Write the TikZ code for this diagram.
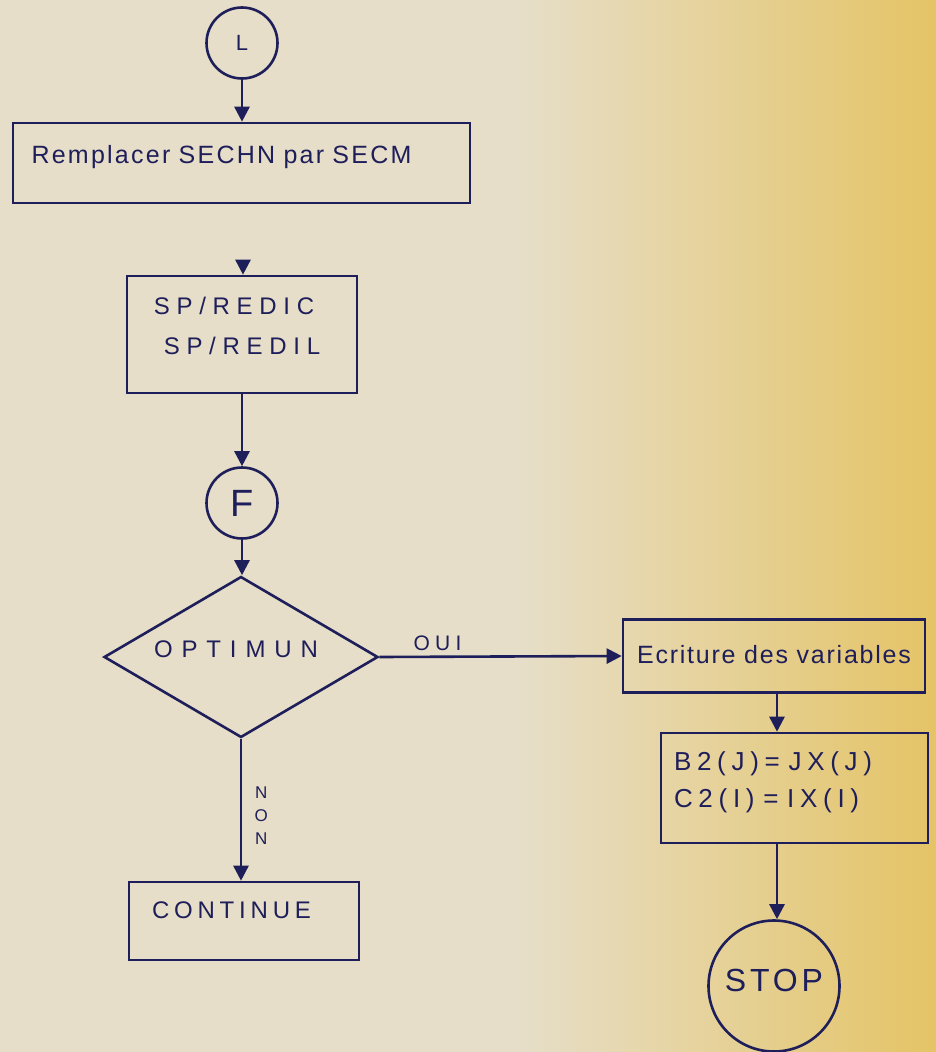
\documentclass[tikz,border=0pt]{standalone}
\usepackage{fontspec}
\setmainfont{Liberation Sans}
\usetikzlibrary{shapes.geometric,arrows.meta,calc}
\definecolor{paper}{HTML}{E6DEC8}
\definecolor{paperY}{HTML}{E5C466}
\definecolor{ink}{HTML}{1E1E5A}
\begin{document}
\begin{tikzpicture}[x=1pt,y=-1pt,
  every node/.style={text=ink},
  ln/.style={draw=ink,line width=2.6pt},
  arr/.style={ln,-{Triangle[length=15pt,width=15pt]}},
  box/.style={draw=ink,line width=2.6pt,rectangle,inner sep=0pt},
  circ/.style={draw=ink,line width=2.6pt,circle,inner sep=0pt},
  dia/.style={draw=ink,line width=2.6pt,diamond,inner sep=0pt}
]
\fill[paper] (0,0) rectangle (936,1052);
\shade[left color=paper,right color=paperY] (520,0) rectangle (936,1052);
\useasboundingbox (0,0) rectangle (936,1052);

\node[circ,minimum size=71pt,font=\fontsize{22}{26}\selectfont] (L) at (242,43) {L};
\node[box,minimum width=457pt,minimum height=80pt,text width=420pt,align=left,
  font=\fontsize{25}{30}\selectfont\addfontfeature{LetterSpace=9}] (rep) at (241.5,163) {\raisebox{17pt}{Remplacer SECHN par SECM}};
\coordinate (gap) at (243,260);
\node[box,minimum width=230pt,minimum height=117pt,align=center,
  font=\fontsize{24}{40}\selectfont\addfontfeature{LetterSpace=28}] (sp) at (242,334.5)
  {\hspace*{-16pt}SP/REDIC\\SP/REDIL\\[-22pt]};
\node[circ,minimum size=71pt,font=\fontsize{38}{40}\selectfont] (F) at (242,503) {F};
\node[dia,minimum width=274pt,minimum height=161pt,
  font=\fontsize{24}{30}\selectfont\addfontfeature{LetterSpace=37}] (opt) at (241,657)
  {\makebox[0pt]{\smash{\raisebox{0pt}{\hspace*{-10pt}OPTIMUN}}}};
\node[box,minimum width=302pt,minimum height=73pt,
  font=\fontsize{25}{30}\selectfont\addfontfeature{LetterSpace=7}] (ecr) at (774,656) {\raisebox{4pt}{Ecriture des variables}};
\node[box,minimum width=267pt,minimum height=110pt,text width=241pt,align=left,
  font=\fontsize{26}{37}\selectfont\addfontfeature{LetterSpace=22}] (b2) at (794.5,788)
  {B2(J)= JX(J)\\C2(I) = IX(I)\\[-21pt]\mbox{}};
\node[box,minimum width=230pt,minimum height=78pt,text width=184pt,align=left,
  font=\fontsize{24}{30}\selectfont\addfontfeature{LetterSpace=20}] (cont) at (244,921)
  {\raisebox{21pt}{CONTINUE}};
\node[circ,minimum size=131pt,font=\fontsize{32}{36}\selectfont\addfontfeature{LetterSpace=12}] (stop) at (774,986) {\raisebox{11pt}{STOP}};

\draw[arr] (L) -- (rep.north -| L);
\draw[arr] (gap) -- (gap |- sp.north);
\draw[arr] (sp) -- (F);
\draw[arr] (F) -- (opt.north -| F);
\draw[arr] (opt.east) -- (ecr.west) node[pos=0.24,above=1pt,
  font=\fontsize{21}{24}\selectfont\addfontfeature{LetterSpace=25}] (oui) {OUI};
\draw[arr] (opt.south) -- (opt.south |- cont.north) node[pos=0.545,right=9pt,align=center,
  font=\fontsize{17}{23}\selectfont] (non) {N\\O\\N};
\draw[arr] ([xshift=3pt]ecr.south) -- ([xshift=3pt]ecr.south |- b2.north);
\draw[arr] ([xshift=3pt]ecr.south |- b2.south) -- ([xshift=3pt]stop.north);
\end{tikzpicture}
\end{document}
